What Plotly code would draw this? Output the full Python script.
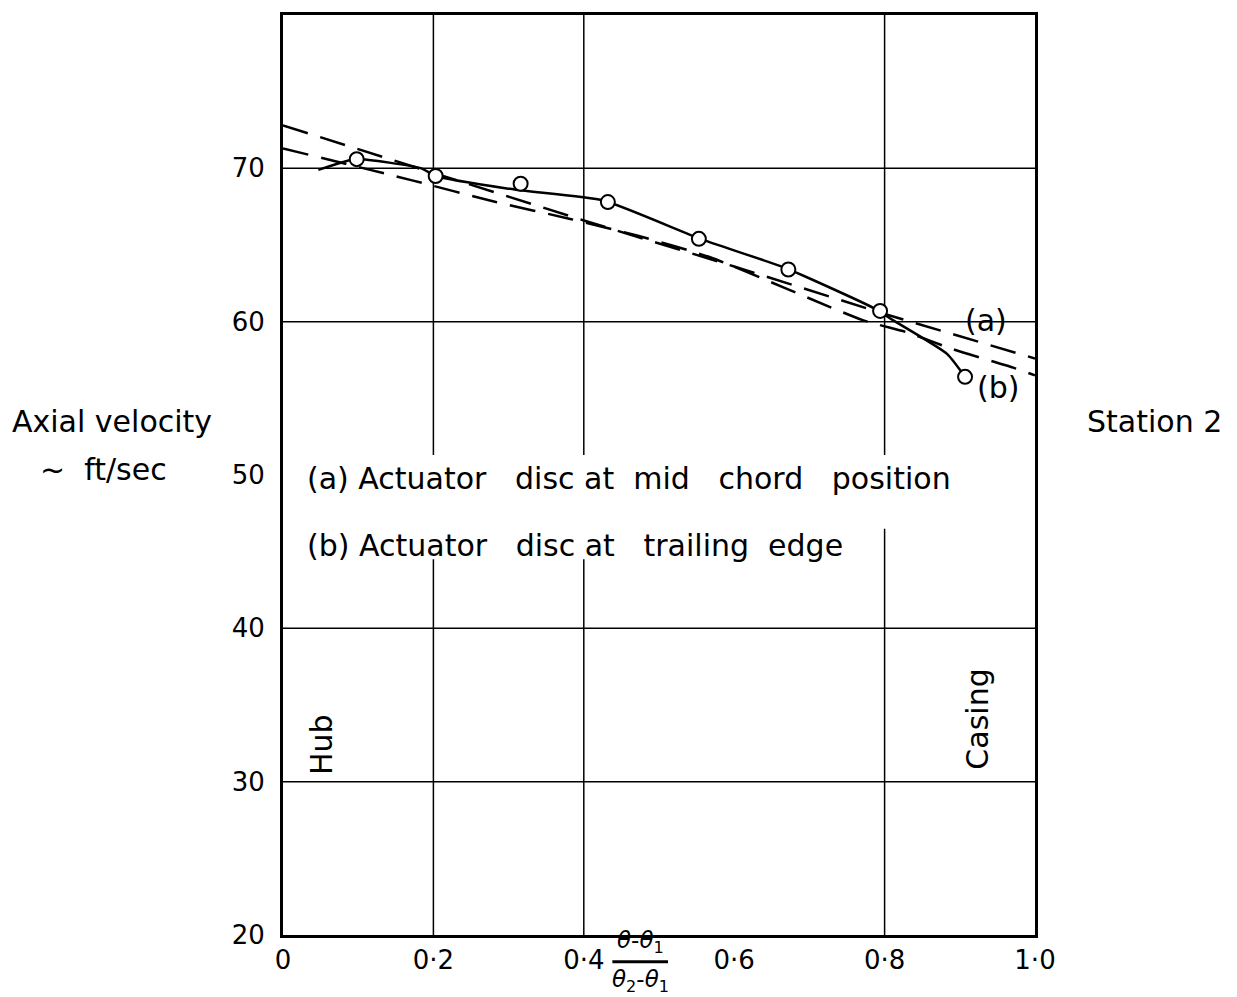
import plotly.graph_objects as go

# measured points (circles)
x_pts = [0.098, 0.203, 0.316, 0.432, 0.553, 0.672, 0.794, 0.907]
y_pts = [70.6, 69.5, 69.0, 67.8, 65.4, 63.4, 60.7, 56.4]

# solid curve through the measurements
x_solid = [0.047, 0.096, 0.184, 0.203, 0.310, 0.426, 0.555, 0.668, 0.785, 0.811, 0.883, 0.907]
y_solid = [69.9, 70.6, 70.0, 69.5, 68.6, 67.9, 65.4, 63.5, 60.9, 60.1, 57.9, 56.4]

# (a) actuator disc at mid chord
x_a = [0.0, 0.2, 0.4, 0.6, 0.8, 1.0]
y_a = [72.8, 69.7, 66.6, 63.6, 60.5, 57.6]

# (b) actuator disc at trailing edge
x_b = [0.0, 0.173, 0.283, 0.382, 0.472, 0.568, 0.771, 0.830, 0.891, 0.971, 1.0]
y_b = [71.3, 69.2, 67.8, 66.7, 65.6, 64.2, 60.1, 59.3, 58.2, 57.0, 56.5]

x_ticks = [0, 0.2, 0.4, 0.6, 0.8, 1.0]
x_ticktext = ['0', '0·2', '0·4', '0·6', '0·8', '1·0']
y_ticks = [20, 30, 40, 50, 60, 70]
grid_x = [0.2, 0.4, 0.8]
grid_y = [30, 40, 60, 70]

FONT = 'DejaVu Sans'
NB = '\u00a0'

fig = go.Figure()
fig.add_trace(go.Scatter(x=x_a, y=y_a, mode='lines',
                         line=dict(color='black', width=2.5, dash='26px,13px')))
fig.add_trace(go.Scatter(x=x_b, y=y_b, mode='lines',
                         line=dict(color='black', width=2.5, dash='26px,13px', shape='spline', smoothing=0.6)))
fig.add_trace(go.Scatter(x=x_solid, y=y_solid, mode='lines',
                         line=dict(color='black', width=2.5, shape='spline', smoothing=0.5)))
fig.add_trace(go.Scatter(x=x_pts, y=y_pts, mode='markers',
                         marker=dict(symbol='circle', size=14, color='white',
                                     line=dict(color='black', width=2))))

grid_line = dict(color='black', width=1.5)
shapes = []
for gy in grid_y:
    shapes.append(dict(type='line', xref='paper', yref='y', x0=0, x1=1, y0=gy, y1=gy,
                       line=grid_line, layer='below'))
# vertical grid lines, broken where the notes sit
for gx in grid_x:
    gap_bottom = 46.5 if gx == 0.8 else 44.5
    shapes.append(dict(type='line', xref='x', yref='y', x0=gx, x1=gx, y0=51.3, y1=80,
                       line=grid_line, layer='below'))
    shapes.append(dict(type='line', xref='x', yref='y', x0=gx, x1=gx, y0=20, y1=gap_bottom,
                       line=grid_line, layer='below'))
# fraction bar of the x label
shapes.append(dict(type='line', xref='paper', yref='paper', x0=0.438, x1=0.512, y0=-0.029, y1=-0.029,
                   line=dict(color='black', width=3)))

tf = dict(family=FONT, size=30, color='black')
annotations = [
    dict(x=0.475, y=-0.026, xref='paper', yref='paper', yanchor='bottom',
         text='<i>θ</i>-<i>θ</i><sub>1</sub>',
         showarrow=False, font=dict(family=FONT, size=23, color='black')),
    dict(x=0.475, y=-0.031, xref='paper', yref='paper', yanchor='top',
         text='<i>θ</i><sub>2</sub>-<i>θ</i><sub>1</sub>',
         showarrow=False, font=dict(family=FONT, size=23, color='black')),
    dict(x=-0.363, y=0.558, xref='paper', yref='paper', xanchor='left', text='Axial velocity',
         showarrow=False, font=tf),
    dict(x=-0.326, y=0.506, xref='paper', yref='paper', xanchor='left', text='~' + NB * 2 + 'ft/sec',
         showarrow=False, font=tf),
    dict(x=1.066, y=0.558, xref='paper', yref='paper', xanchor='left', text='Station 2',
         showarrow=False, font=tf),
    dict(x=0.029, y=49.8, xref='paper', yref='y', xanchor='left',
         text='(a) Actuator' + NB * 3 + 'disc at' + NB * 2 + 'mid' + NB * 3 + 'chord' + NB * 3 + 'position',
         showarrow=False, font=tf),
    dict(x=0.029, y=45.4, xref='paper', yref='y', xanchor='left',
         text='(b) Actuator' + NB * 3 + 'disc at' + NB * 3 + 'trailing' + NB * 2 + 'edge',
         showarrow=False, font=tf),
    dict(x=0.052, y=32.4, text='Hub', textangle=-90, showarrow=False, font=tf),
    dict(x=0.924, y=34.1, text='Casing', textangle=-90, showarrow=False, font=tf),
    dict(x=0.935, y=60.1, text='(a)', showarrow=False, font=tf),
    dict(x=0.951, y=55.7, text='(b)', showarrow=False, font=tf),
]

fig.update_layout(
    width=1237, height=997, autosize=False,
    margin=dict(l=275, r=210, t=4, b=70),
    paper_bgcolor='white', plot_bgcolor='white',
    showlegend=False,
    font=dict(family=FONT, color='black'),
    shapes=shapes, annotations=annotations,
    xaxis=dict(range=[0, 1], tickvals=x_ticks, ticktext=x_ticktext, ticks='',
               showgrid=False, zeroline=False, showline=True, mirror=True,
               linecolor='black', linewidth=3, tickfont=dict(family=FONT, size=26, color='black')),
    yaxis=dict(range=[20, 80], tickvals=y_ticks, ticks='',
               showgrid=False, zeroline=False,
               showline=True, mirror=True, linecolor='black', linewidth=3,
               tickfont=dict(family=FONT, size=26, color='black'), ticklabelstandoff=10),
)

fig.write_html('out.html')
